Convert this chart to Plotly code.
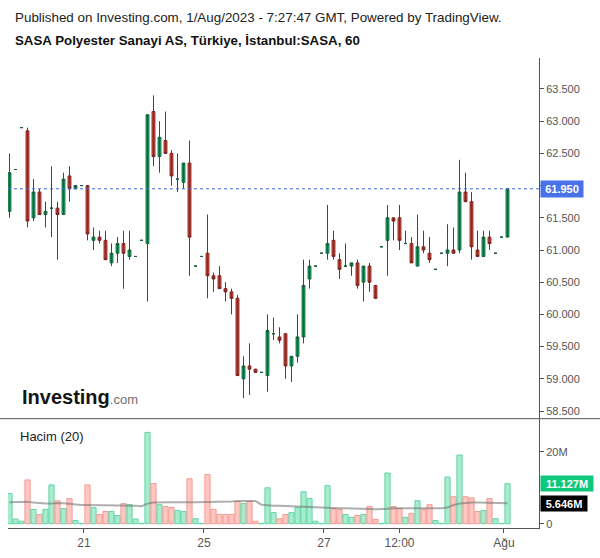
import plotly.graph_objects as go

# ---------------- data ----------------
open_ = [61.60, 62.25, 62.90, 62.85, 61.50, 61.90, 61.55, 61.65, 61.65, 61.55,
         62.15, 61.95, 62.00, 62.00, 61.15, 61.20, 61.15, 60.80, 60.95, 61.10,
         60.90, 60.90, 61.15, 61.10, 63.15, 62.45, 62.70, 62.50, 62.10, 62.05,
         62.35, 60.75, 60.90, 60.95, 60.60, 60.60, 60.40, 60.35, 60.25, 59.00,
         59.20, 59.15, 59.10, 59.05, 59.70, 59.65, 59.70, 59.20, 59.35, 59.65,
         60.55, 60.75, 60.95, 60.95, 61.15, 60.85, 60.75, 60.75, 60.80, 60.50,
         60.75, 60.45, 61.05, 61.15, 61.50, 61.50, 61.10, 61.10, 60.75, 61.05,
         60.95, 60.70, 60.95, 60.95, 61.00, 61.00, 61.90, 61.75, 61.00, 60.90,
         61.20, 60.95, 61.20, 61.20]
high = [62.50, 62.25, 62.90, 62.90, 62.10, 61.95, 61.75, 62.30, 61.75, 62.20,
        62.30, 62.00, 62.00, 62.00, 61.35, 61.30, 61.30, 61.10, 61.20, 61.30,
        61.30, 60.90, 61.15, 63.10, 63.40, 63.00, 63.15, 62.55, 62.50, 62.35,
        62.70, 60.75, 60.90, 61.55, 60.65, 60.75, 60.50, 60.40, 60.30, 59.35,
        59.55, 59.15, 59.10, 60.00, 59.95, 59.80, 59.70, 59.35, 60.00, 60.85,
        60.85, 60.75, 60.95, 61.70, 61.30, 60.95, 61.10, 60.80, 60.85, 60.75,
        60.80, 60.45, 61.05, 61.70, 61.50, 61.70, 61.30, 61.20, 61.55, 61.30,
        61.20, 60.70, 60.95, 61.40, 61.35, 62.40, 62.20, 61.90, 61.30, 61.30,
        61.30, 60.95, 61.20, 61.95]
low = [61.50, 62.25, 62.90, 61.35, 61.45, 61.55, 61.35, 61.20, 60.85, 61.55,
       61.75, 61.95, 62.00, 61.15, 61.00, 61.10, 60.85, 60.75, 60.80, 60.40,
       60.85, 60.90, 61.15, 60.20, 62.30, 62.20, 62.50, 62.00, 61.90, 61.95,
       60.60, 60.75, 60.90, 60.25, 60.35, 60.40, 60.20, 60.00, 59.05, 58.70,
       58.75, 59.10, 59.10, 58.80, 59.60, 59.55, 59.00, 58.95, 59.25, 59.55,
       60.40, 60.75, 60.95, 60.85, 60.85, 60.55, 60.75, 60.60, 60.40, 60.20,
       60.35, 60.25, 61.05, 60.60, 61.15, 61.00, 61.10, 60.80, 60.75, 60.95,
       60.80, 60.70, 60.95, 60.75, 60.95, 60.95, 61.75, 60.85, 60.90, 60.90,
       61.00, 60.95, 61.20, 61.20]
close = [62.20, 62.25, 62.90, 61.45, 61.90, 61.55, 61.60, 61.65, 61.55, 62.10,
         61.95, 62.00, 62.00, 61.25, 61.20, 61.15, 60.85, 60.95, 61.10, 60.95,
         61.00, 60.90, 61.15, 63.10, 62.45, 62.75, 62.50, 62.15, 62.10, 62.35,
         61.20, 60.75, 60.90, 60.60, 60.55, 60.40, 60.35, 60.25, 59.05, 59.20,
         59.15, 59.10, 59.10, 59.75, 59.70, 59.60, 59.20, 59.35, 59.65, 60.45,
         60.75, 60.75, 60.95, 61.10, 60.90, 60.70, 60.75, 60.80, 60.45, 60.75,
         60.50, 60.25, 61.05, 61.50, 61.45, 61.15, 61.10, 60.80, 61.05, 61.00,
         60.85, 60.70, 60.95, 61.00, 60.95, 61.90, 61.75, 61.05, 60.90, 61.20,
         61.10, 60.95, 61.20, 61.95]
volume_m = [8.4, 1.3, 0.7, 12.2, 4.0, 2.6, 4.0, 10.8, 6.4, 4.2,
            7.0, 0.9, 0.1, 10.8, 4.5, 2.6, 3.4, 3.4, 2.3, 5.6,
            5.3, 1.3, 0.1, 25.4, 11.2, 5.3, 4.8, 4.5, 3.7, 3.4,
            12.5, 1.4, 0.1, 13.7, 4.0, 2.6, 2.6, 2.6, 6.2, 5.6,
            6.2, 0.7, 0.1, 10.0, 3.1, 1.4, 2.6, 3.1, 4.5, 8.9,
            7.0, 0.7, 0.05, 10.6, 4.2, 4.0, 2.6, 1.8, 2.3, 2.6,
            4.8, 1.2, 0.1, 14.1, 4.8, 4.2, 1.8, 2.9, 6.4, 4.0,
            5.3, 0.9, 0.1, 13.0, 7.5, 19.1, 7.5, 7.2, 3.4, 3.7,
            7.0, 1.4, 0.1, 11.127]
vol_ma_m = [6.0, 6.1, 6.2, 6.1, 5.9, 5.7, 5.6, 5.6, 5.8, 5.7,
            5.5, 5.3, 5.2, 5.2, 5.2, 5.2, 5.1, 5.1, 5.1, 5.1,
            5.1, 5.0, 4.9, 5.6, 5.9, 6.0, 6.0, 6.0, 6.0, 5.9,
            6.0, 6.0, 6.0, 6.0, 6.0, 6.1, 6.1, 6.2, 6.3, 6.3,
            6.3, 6.3, 5.3, 5.1, 5.0, 5.0, 5.0, 5.0, 4.8, 4.7,
            4.6, 4.5, 4.5, 4.5, 4.4, 4.3, 4.3, 4.3, 4.3, 4.3,
            4.1, 4.0, 4.0, 4.2, 4.3, 4.3, 4.3, 4.3, 4.2, 4.2,
            4.2, 4.2, 4.3, 4.5, 5.2, 5.6, 5.8, 5.9, 5.9, 5.9,
            5.9, 5.9, 5.8, 5.7]
tick_labels = ["21", "25", "27", "12:00", "Ağu"]
tick_bars = [13, 33, 53, 65, 83]
tick_is_day = [True, True, True, False, True]
last_price = 61.95
last_volume_m = 11.127
last_vol_ma_m = 5.646
price_ticks = [58.5, 59.0, 59.5, 60.0, 60.5, 61.0, 61.5, 62.0, 62.5, 63.0, 63.5]
vol_ticks = [0, 20]
vol_tick_text = ["0", "20M"]

# ---------------- styles ----------------
FONT = "Liberation Sans, Arial, sans-serif"
UP_FILL, UP_EDGE = "#0fc77b", "#1b5a37"
DN_FILL, DN_EDGE = "#fb6a5d", "#6f1a15"
WICK = "#1d5a3a"
VUP_FILL, VUP_EDGE = "#a8ecd0", "#5fd6a3"
VDN_FILL, VDN_EDGE = "#ffc6c2", "#f49a93"
AXIS = "#555555"

n = len(open_)
idx = list(range(n))
is_up = [c >= o for o, c in zip(open_, close)]

fig = go.Figure()

# wicks
wx, wy = [], []
for i in idx:
    wx += [i, i, None]
    wy += [low[i], high[i], None]
fig.add_trace(go.Scatter(x=wx, y=wy, mode="lines", line=dict(color=WICK, width=1),
                         hoverinfo="skip", showlegend=False, xaxis="x", yaxis="y"))

# bodies
for sel, fill, edge in [(True, UP_FILL, UP_EDGE), (False, DN_FILL, DN_EDGE)]:
    ii = [i for i in idx if is_up[i] == sel]
    fig.add_trace(go.Candlestick(
        x=ii,
        open=[open_[i] for i in ii],
        close=[close[i] for i in ii],
        high=[max(open_[i], close[i]) for i in ii],
        low=[min(open_[i], close[i]) for i in ii],
        increasing=dict(fillcolor=fill, line=dict(color=edge, width=1)),
        decreasing=dict(fillcolor=fill, line=dict(color=edge, width=1)),
        whiskerwidth=0, showlegend=False, xaxis="x", yaxis="y"))

# volume
fig.add_trace(go.Bar(
    x=idx, y=volume_m, width=0.86,
    marker=dict(color=[VUP_FILL if u else VDN_FILL for u in is_up],
                line=dict(color=[VUP_EDGE if u else VDN_EDGE for u in is_up], width=1)),
    showlegend=False, xaxis="x", yaxis="y2"))
fig.add_trace(go.Scatter(x=idx, y=vol_ma_m, mode="lines",
                         line=dict(color="rgba(110,110,110,0.55)", width=2),
                         showlegend=False, xaxis="x", yaxis="y2"))

tickvals = [b - 0.6 if d else b for b, d in zip(tick_bars, tick_is_day)]
price_text = ["" if abs(v - last_price) < 0.15 else f"{v:.3f}" for v in price_ticks]

# pixel geometry helpers (layout only)
W, H = 600, 558
ML, MR, MT, MB = 8, 61, 58, 25
PW, PH = W - ML - MR, H - MT - MB
BAR_PX = 6.0
X0 = -0.25
def px_x(x):
    return (x - ML) / PW
def px_y(y):
    return (H - MB - y) / PH

fig.update_layout(
    width=W, height=H, margin=dict(l=ML, r=MR, t=MT, b=MB),
    paper_bgcolor="white", plot_bgcolor="white",
    font=dict(family=FONT, color=AXIS),
    showlegend=False,
    boxgap=1 - 4 / BAR_PX,
    xaxis=dict(domain=[0, 1], anchor="y2", range=[X0, X0 + PW / BAR_PX],
               rangeslider=dict(visible=False), showgrid=False, zeroline=False,
               showline=True, linecolor=AXIS, linewidth=1,
               ticks="outside", ticklen=4, tickcolor=AXIS,
               tickvals=tickvals, ticktext=tick_labels,
               tickfont=dict(size=12, color=AXIS, family=FONT)),
    yaxis=dict(domain=[px_y(422), 1], anchor="x", side="right",
               range=[58.389, 63.981], showgrid=False, zeroline=False,
               showline=True, linecolor=AXIS, linewidth=1,
               ticks="outside", ticklen=4, tickcolor=AXIS,
               tickvals=price_ticks, ticktext=price_text,
               tickfont=dict(size=11, color=AXIS, family=FONT)),
    yaxis2=dict(domain=[0, px_y(423)], anchor="x", side="right",
                range=[-1.18, 29.08], showgrid=False, zeroline=False,
                showline=True, linecolor=AXIS, linewidth=1,
                ticks="outside", ticklen=4, tickcolor=AXIS,
                tickvals=vol_ticks, ticktext=vol_tick_text,
                tickfont=dict(size=11, color=AXIS, family=FONT)),
)

# last price dotted line
fig.add_shape(type="line", xref="paper", x0=0, x1=1, yref="y", y0=last_price, y1=last_price,
              line=dict(color="#3f68e0", width=1, dash="dot"))
# panel separator
fig.add_shape(type="line", xref="paper", x0=px_x(0), x1=px_x(600), yref="paper",
              y0=px_y(422.5), y1=px_y(422.5), line=dict(color=AXIS, width=1))

# right-side value labels
fig.add_annotation(xref="paper", x=1, xanchor="left", xshift=1, yref="y", y=last_price,
                   text=f"<b>{last_price:.3f}</b>", showarrow=False, bgcolor="#4a72e8",
                   font=dict(color="white", size=11, family=FONT), width=40, height=14,
                   borderpad=1)
fig.add_annotation(xref="paper", x=1, xanchor="left", xshift=1, yref="y2", y=last_volume_m,
                   text=f"<b>{last_volume_m:.3f}M</b>", showarrow=False, bgcolor="#0fc77b",
                   font=dict(color="white", size=11, family=FONT), width=50, height=13,
                   borderpad=1)
fig.add_annotation(xref="paper", x=1, xanchor="left", xshift=1, yref="y2", y=last_vol_ma_m,
                   text=f"<b>{last_vol_ma_m:.3f}M</b>", showarrow=False, bgcolor="#000000",
                   font=dict(color="white", size=11, family=FONT), width=44, height=13,
                   borderpad=1)

# header texts
fig.add_annotation(xref="paper", yref="paper", x=px_x(13), y=px_y(17), xanchor="left",
                   yanchor="middle", showarrow=False,
                   text="Published on Investing.com, 1/Aug/2023 - 7:27:47 GMT, Powered by TradingView.",
                   font=dict(size=13.4, color="#222222", family=FONT))
fig.add_annotation(xref="paper", yref="paper", x=px_x(13), y=px_y(40), xanchor="left",
                   yanchor="middle", showarrow=False,
                   text="<b>SASA Polyester Sanayi AS, Türkiye, İstanbul:SASA, 60</b>",
                   font=dict(size=13.3, color="#111111", family=FONT))
fig.add_annotation(xref="paper", yref="paper", x=px_x(18), y=px_y(441), xanchor="left",
                   yanchor="middle", showarrow=False, text="Hacim (20)",
                   font=dict(size=13, color="#222222", family=FONT))
fig.add_annotation(xref="paper", yref="paper", x=px_x(20), y=px_y(401), xanchor="left",
                   yanchor="middle", showarrow=False,
                   text="<b>Investing</b><span style='font-size:13px;color:#6f6f6f'>.com</span>",
                   font=dict(size=20, color="#141414", family=FONT))

fig.write_html("out.html")
